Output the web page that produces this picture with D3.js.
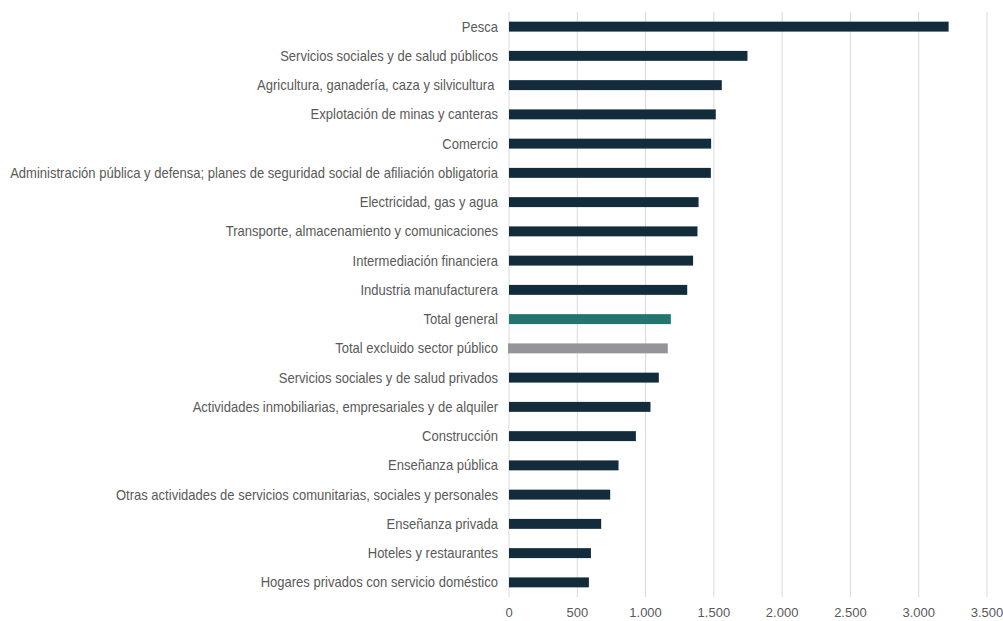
<!DOCTYPE html>
<html>
<head>
<meta charset="utf-8">
<script src="https://cdn.jsdelivr.net/npm/d3@7"></script>
<style>
  body { margin: 0; background: #fff; }
  text { font-family: "Liberation Sans Narrow", "Liberation Sans", Arial, sans-serif; fill: #595959; white-space: pre; }
</style>
</head>
<body>
<div id="chart"></div>
<script>
var categories = [
    'Pesca',
    'Servicios sociales y de salud públicos',
    'Agricultura, ganadería, caza y silvicultura ',
    'Explotación de minas y canteras',
    'Comercio',
    'Administración pública y defensa; planes de seguridad social de afiliación obligatoria',
    'Electricidad, gas y agua',
    'Transporte, almacenamiento y comunicaciones',
    'Intermediación financiera',
    'Industria manufacturera',
    'Total general',
    'Total excluido sector público',
    'Servicios sociales y de salud privados',
    'Actividades inmobiliarias, empresariales y de alquiler',
    'Construcción',
    'Enseñanza pública',
    'Otras actividades de servicios comunitarias, sociales y personales',
    'Enseñanza privada',
    'Hoteles y restaurantes',
    'Hogares privados con servicio doméstico'
];
var values = [3219, 1746, 1558, 1514, 1480, 1478, 1388, 1380, 1348, 1305,
              1185, 1170, 1097, 1036, 929, 802, 741, 675, 600, 585];
var xTicks = [0, 500, 1000, 1500, 2000, 2500, 3000, 3500];
var tickLabels = ['0', '500', '1.000', '1.500', '2.000', '2.500', '3.000', '3.500'];

var width = 1003, height = 621;
var margin = { top: 12, right: 16, bottom: 24, left: 509 };

var svg = d3.select('#chart').append('svg')
    .attr('width', width)
    .attr('height', height);

var x = d3.scaleLinear()
    .domain([0, 3500])
    .range([margin.left, 987]);

var y = d3.scaleBand()
    .domain(categories)
    .range([margin.top, height - margin.bottom])
    .paddingInner(0.66)
    .paddingOuter(0.33);

// grid lines
svg.append('g').selectAll('line')
    .data(xTicks)
    .enter().append('line')
    .attr('x1', function (d) { return x(d); })
    .attr('x2', function (d) { return x(d); })
    .attr('y1', margin.top)
    .attr('y2', height - margin.bottom)
    .attr('stroke', '#d9d9d9')
    .attr('stroke-width', 1);

// bars
function barColor(d, i) {
    if (categories[i] === 'Total general') return '#237670';
    if (categories[i] === 'Total excluido sector público') return '#939598';
    return '#132c3b';
}

svg.append('g').selectAll('rect')
    .data(values)
    .enter().append('rect')
    .attr('x', function (d, i) { return categories[i] === 'Total excluido sector público' ? x(0) - 1 : x(0); })
    .attr('y', function (d, i) { return y(categories[i]); })
    .attr('width', function (d) { return x(d) - x(0); })
    .attr('height', y.bandwidth())
    .attr('fill', barColor);

// category labels (squeezed horizontally to mimic a narrow face)
var labelG = svg.append('g');
var labels = labelG.selectAll('text')
    .data(categories)
    .enter().append('text')
    .attr('x', 0)
    .attr('y', function (d) { return y(d) + y.bandwidth() / 2; })
    .attr('dy', '0.35em')
    .attr('text-anchor', 'end')
    .attr('font-size', '14px')
    .text(function (d) { return d; });

var longest = d3.max(labels.nodes(), function (n) { return n.getComputedTextLength(); });
var k = Math.min(1, 488 / longest);
labelG.attr('transform', 'translate(' + (margin.left - 11) + ',0) scale(' + k + ',1)');

// x axis labels
svg.append('g').selectAll('text')
    .data(xTicks)
    .enter().append('text')
    .attr('x', function (d) { return x(d); })
    .attr('y', 617)
    .attr('text-anchor', 'middle')
    .attr('font-size', '13px')
    .text(function (d, i) { return tickLabels[i]; });
</script>
</body>
</html>
